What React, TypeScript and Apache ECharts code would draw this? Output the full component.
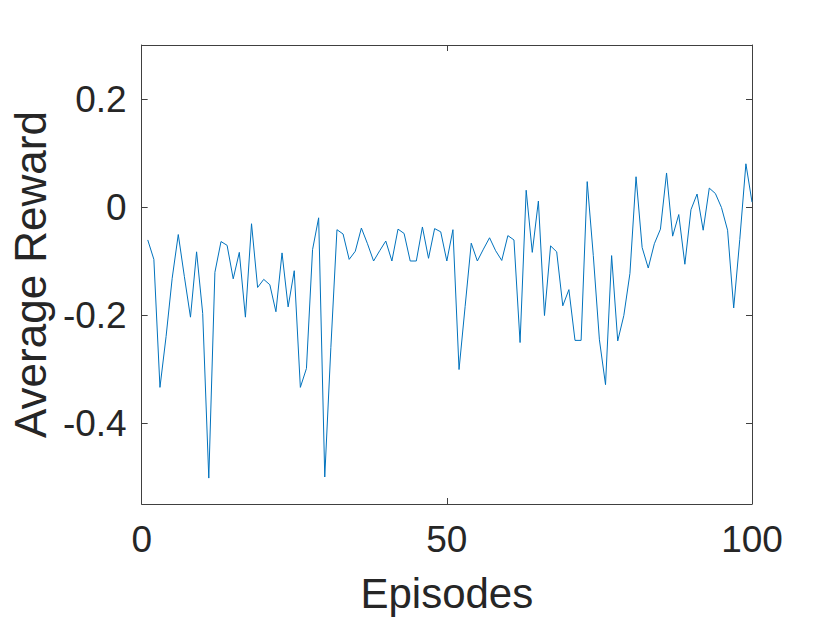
import React, { useEffect, useRef } from "react";
import * as echarts from "echarts";

const rewards: number[] = [
  -0.061, -0.097, -0.334, -0.24, -0.132, -0.051, -0.129, -0.204, -0.083, -0.197,
  -0.502, -0.121, -0.064, -0.071, -0.133, -0.084, -0.204, -0.031, -0.149, -0.134,
  -0.144, -0.194, -0.085, -0.185, -0.118, -0.334, -0.299, -0.079, -0.02, -0.5,
  -0.26, -0.042, -0.05, -0.097, -0.082, -0.039, -0.068, -0.1, -0.081, -0.063,
  -0.1, -0.041, -0.049, -0.1, -0.1, -0.037, -0.095, -0.04, -0.046, -0.1,
  -0.042, -0.301, -0.184, -0.067, -0.1, -0.078, -0.057, -0.081, -0.099, -0.053,
  -0.061, -0.251, 0.031, -0.084, 0.011, -0.201, -0.072, -0.083, -0.183, -0.153,
  -0.247, -0.247, 0.047, -0.09, -0.246, -0.329, -0.09, -0.248, -0.201, -0.123,
  0.056, -0.075, -0.113, -0.068, -0.041, 0.063, -0.054, -0.014, -0.106, -0.005,
  0.024, -0.043, 0.035, 0.025, -0.001, -0.043, -0.187, -0.06, 0.08, 0.009,
];
const episodes: number[] = rewards.map((_, i) => i + 1);
const yTicks: number[] = [-0.4, -0.2, 0, 0.2];
const xTicks: number[] = [0, 50, 100];

const FONT = "'Liberation Sans', Arial, Helvetica, sans-serif";
const TEXT = "#262626";
const AXIS = "#404040";

export default function App() {
  const ref = useRef<HTMLDivElement>(null);
  useEffect(() => {
    if (!ref.current) return;
    const chart = echarts.init(ref.current, undefined, { renderer: "svg" });
    const axisLine = { show: true, onZero: false, lineStyle: { color: AXIS, width: 1 } };
    chart.setOption({
      animation: false,
      backgroundColor: "#ffffff",
      textStyle: { fontFamily: FONT },
      grid: { left: 141, right: 78, top: 45, bottom: 119, containLabel: false },
      xAxis: [
        {
          type: "value",
          min: 0,
          max: 100,
          position: "bottom",
          axisLine,
          axisTick: { show: true, inside: true, length: 6, customValues: xTicks, lineStyle: { color: AXIS } },
          axisLabel: {
            customValues: xTicks,
            fontSize: 37,
            color: TEXT,
            margin: 17,
            fontFamily: FONT,
            formatter: (v: number) => String(v),
          },
          splitLine: { show: false },
          name: "Episodes",
          nameLocation: "middle",
          nameGap: 68,
          nameTextStyle: { fontSize: 42, color: TEXT, fontFamily: FONT },
        },
        {
          type: "value",
          min: 0,
          max: 100,
          position: "top",
          axisLine,
          axisTick: { show: true, inside: true, length: 6, customValues: xTicks, lineStyle: { color: AXIS } },
          axisLabel: { show: false },
          splitLine: { show: false },
        },
      ],
      yAxis: [
        {
          type: "value",
          min: -0.55,
          max: 0.3,
          position: "left",
          axisLine,
          axisTick: { show: true, inside: true, length: 6, customValues: yTicks, lineStyle: { color: AXIS } },
          axisLabel: {
            customValues: yTicks,
            fontSize: 37,
            color: TEXT,
            margin: 15,
            fontFamily: FONT,
            formatter: (v: number) => String(Math.round(v * 10) / 10),
          },
          splitLine: { show: false },
          name: "Average Reward",
          nameLocation: "middle",
          nameGap: 84,
          nameTextStyle: { fontSize: 44, color: TEXT, fontFamily: FONT },
        },
        {
          type: "value",
          min: -0.55,
          max: 0.3,
          position: "right",
          axisLine,
          axisTick: { show: true, inside: true, length: 6, customValues: yTicks, lineStyle: { color: AXIS } },
          axisLabel: { show: false },
          splitLine: { show: false },
        },
      ],
      series: [
        {
          type: "line",
          xAxisIndex: 0,
          yAxisIndex: 0,
          data: episodes.map((e, i) => [e, rewards[i]]),
          showSymbol: false,
          symbol: "none",
          lineStyle: { color: "#0072BD", width: 1 },
          itemStyle: { color: "#0072BD" },
        },
      ],
    });
    return () => chart.dispose();
  }, []);
  return (
    <div
      ref={ref}
      style={{ position: "fixed", left: 0, top: 0, width: 830, height: 623, background: "#fff" }}
    />
  );
}
